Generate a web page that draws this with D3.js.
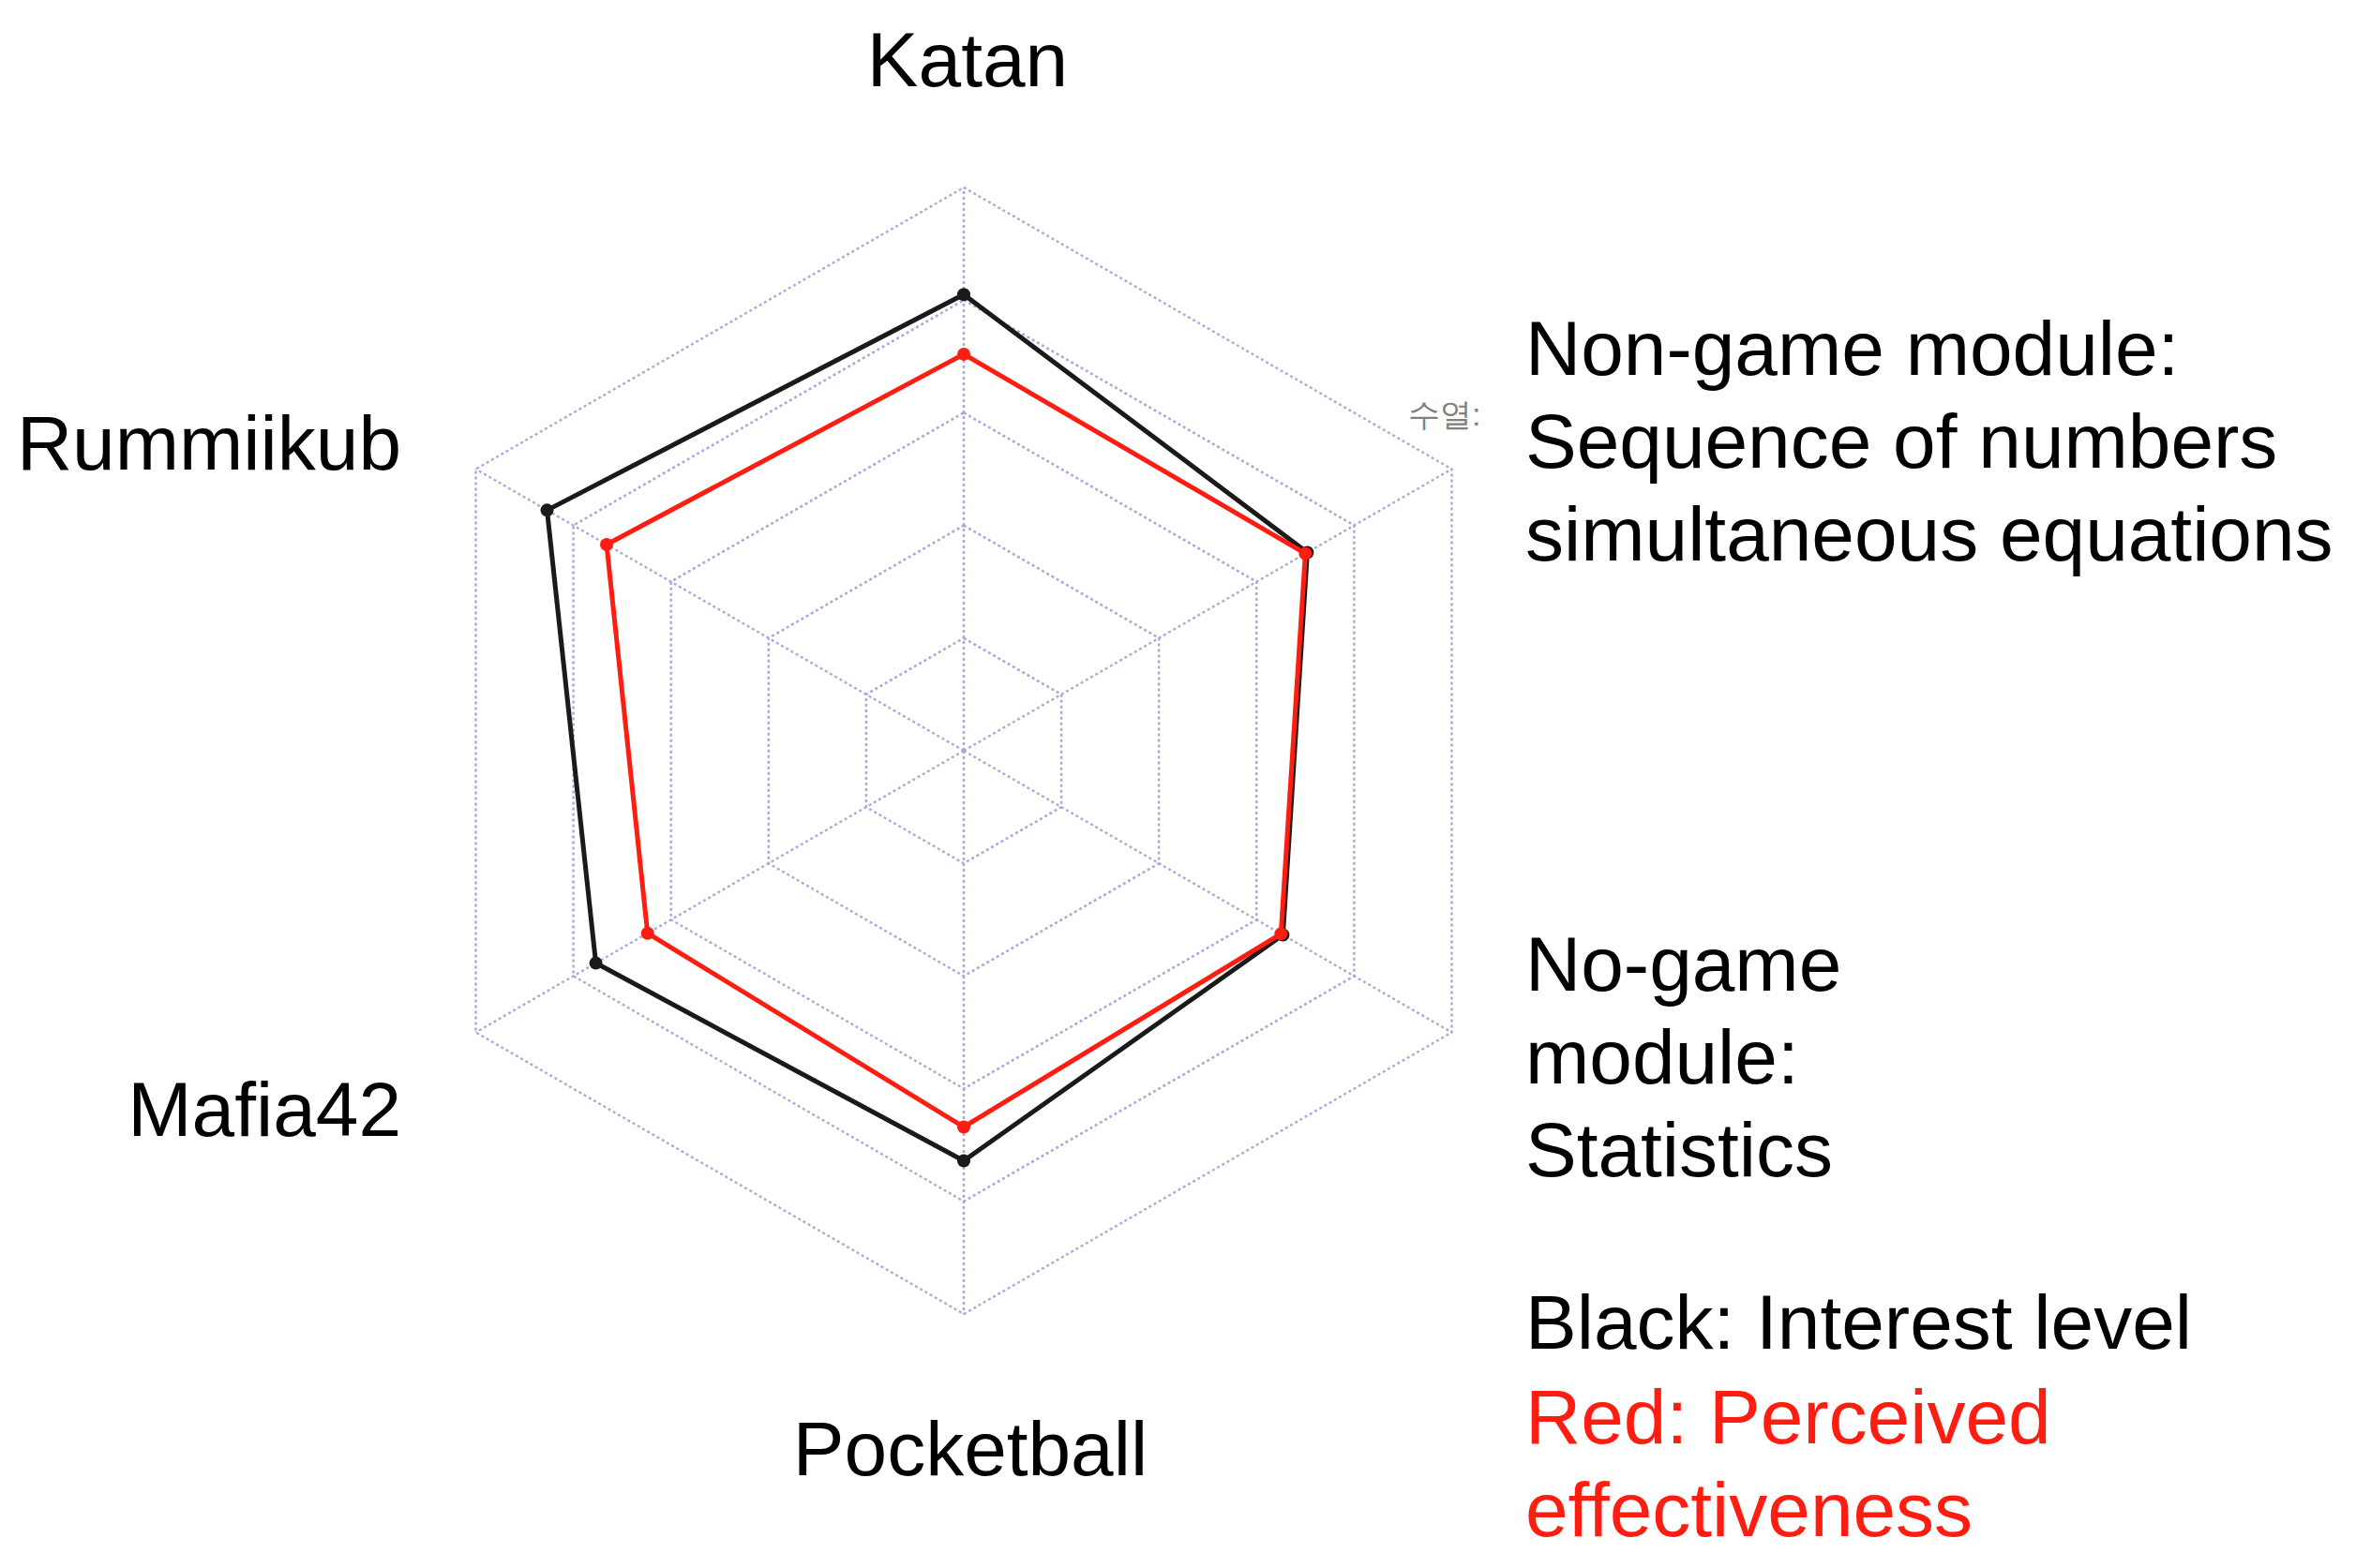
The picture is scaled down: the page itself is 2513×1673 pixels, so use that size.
<!DOCTYPE html>
<html>
<head>
<meta charset="utf-8">
<script src="https://cdn.jsdelivr.net/npm/d3@7"></script>
<style>
  body { margin: 0; background: #fff; }
  svg { display: block; }
  text { font-family: Helvetica, Arial, "Liberation Sans", sans-serif; }
</style>
</head>
<body>
<svg width="2513" height="1673"></svg>
<script>
const width = 2513;
const height = 1673;

// axes, clockwise from the top
const axes = ["Katan", "Non-game Seq", "No-game Statistics", "Pocketball", "Mafia42", "Rummiikub"];
const interest = [4.05, 3.52, 3.27, 3.64, 3.77, 4.27];      // black
const effectiveness = [3.52, 3.50, 3.25, 3.34, 3.24, 3.66]; // red
const levels = [1, 2, 3, 4, 5];

const cx = 1028, cy = 801;
const outerR = 601;

const svg = d3.select("svg");

const r = d3.scaleLinear().domain([0, 5]).range([0, outerR]);
const angle = d3.scalePoint().domain(axes).range([0, 2 * Math.PI * 5 / 6]);

const g = svg.append("g")
    .attr("transform", `translate(${cx}, ${cy})`);

const ring = d3.lineRadial()
    .angle(d => angle(d.axis))
    .radius(d => r(d.value))
    .curve(d3.curveLinearClosed);

const gridColor = "#a9a9dc";

// grid rings
g.selectAll(".ring")
    .data(levels)
    .enter().append("path")
    .attr("class", "ring")
    .attr("d", lv => ring(axes.map(a => ({axis: a, value: lv}))))
    .attr("fill", "none")
    .attr("stroke", gridColor)
    .attr("stroke-width", 2.5)
    .attr("stroke-dasharray", "3,3");

// spokes
g.selectAll(".spoke")
    .data(axes)
    .enter().append("line")
    .attr("class", "spoke")
    .attr("x1", 0).attr("y1", 0)
    .attr("x2", a => r(5) * Math.sin(angle(a)))
    .attr("y2", a => -r(5) * Math.cos(angle(a)))
    .attr("stroke", gridColor)
    .attr("stroke-width", 2.5)
    .attr("stroke-dasharray", "3,3");

const series = [
  {values: interest, color: "#1a1a1a"},
  {values: effectiveness, color: "#ff1c10"}
];

series.forEach(s => {
  const pts = axes.map((a, i) => ({axis: a, value: s.values[i]}));
  g.append("path")
    .attr("d", ring(pts))
    .attr("fill", "none")
    .attr("stroke", s.color)
    .attr("stroke-width", 5)
    .attr("stroke-linejoin", "round");
  g.selectAll(null)
    .data(pts)
    .enter().append("circle")
    .attr("cx", d => r(d.value) * Math.sin(angle(d.axis)))
    .attr("cy", d => -r(d.value) * Math.cos(angle(d.axis)))
    .attr("r", 7)
    .attr("fill", s.color);
});

// labels
const fs = "82px";
function label(lines, x, y, anchor, color) {
  const t = svg.append("text")
    .attr("x", x).attr("y", y)
    .attr("font-size", fs)
    .attr("text-anchor", anchor)
    .attr("fill", color || "#000");
  lines.forEach((l, i) => {
    t.append("tspan").attr("x", x).attr("dy", i === 0 ? 0 : 99).text(l);
  });
}

label(["Katan"], 1032, 92, "middle");
label(["Rummiikub"], 428, 501, "end");
label(["Mafia42"], 428, 1212, "end");
label(["Pocketball"], 1035, 1574, "middle");
label(["Non-game module:", "Sequence of numbers", "simultaneous equations"], 1627, 400, "start");
label(["No-game", "module:", "Statistics"], 1627, 1057, "start");
label(["Black: Interest level"], 1627, 1439, "start");
label(["Red: Perceived", "effectiveness"], 1627, 1540, "start", "#ff1c10");

// small faded korean tag from the original image
svg.append("text")
    .attr("x", 1502).attr("y", 454)
    .attr("font-size", "34px")
    .attr("font-family", "'Noto Sans CJK KR', sans-serif")
    .attr("fill", "#808080")
    .text("수열:");
</script>
</body>
</html>
